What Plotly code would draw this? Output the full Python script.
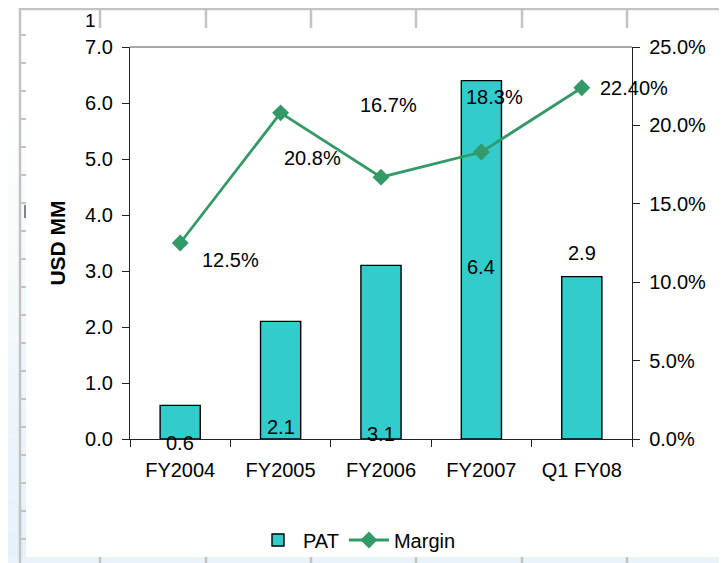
import plotly.graph_objects as go

categories = ["FY2004", "FY2005", "FY2006", "FY2007", "Q1 FY08"]
pat_values = [0.6, 2.1, 3.1, 6.4, 2.9]
margin_values = [12.5, 20.8, 16.7, 18.3, 22.4]
pat_labels = ["0.6", "2.1", "3.1", "6.4", "2.9"]
margin_labels = ["12.5%", "20.8%", "16.7%", "18.3%", "22.40%"]
left_ticks = [0, 1, 2, 3, 4, 5, 6, 7]
left_tick_labels = ["0.0", "1.0", "2.0", "3.0", "4.0", "5.0", "6.0", "7.0"]
right_ticks = [0, 5, 10, 15, 20, 25]
right_tick_labels = ["0.0%", "5.0%", "10.0%", "15.0%", "20.0%", "25.0%"]

# the page body has an 8px margin, so the figure is drawn 8px in from the window edge
OFF = 8
WIN_W, WIN_H = 727, 563
W, H = WIN_W - OFF, WIN_H - OFF
PLOT_L, PLOT_R, PLOT_T, PLOT_B = 130, 632, 47, 439   # window coordinates
L = PLOT_L - OFF
T = PLOT_T - OFF
R = W - (PLOT_R - OFF)
B = H - (PLOT_B - OFF)
PW = PLOT_R - PLOT_L
PH = PLOT_B - PLOT_T

def px(x):
    return (x - PLOT_L) / PW

def py(y):
    return (PLOT_B - y) / PH

FONT = "Liberation Sans, Arial, Helvetica, sans-serif"
TEAL = "#33CCCC"
GREEN = "#339966"
GRID = "#c3c3c3"

fig = go.Figure()
fig.add_trace(go.Bar(
    x=categories, y=pat_values, name="PAT",
    marker=dict(color=TEAL, line=dict(color="black", width=1.4)),
    width=0.4,
))
fig.add_trace(go.Scatter(
    x=categories, y=margin_values, name="Margin", yaxis="y2",
    mode="lines+markers",
    line=dict(color=GREEN, width=2.8),
    marker=dict(symbol="diamond", size=13, color=GREEN),
))

annotations = []
pat_offsets = [("base", -4), ("base", 12), ("base", 5), ("mid", -7), ("top", 24)]
for cat, v, lab, (mode, sh) in zip(categories, pat_values, pat_labels, pat_offsets):
    yv = 0 if mode == "base" else (v / 2 if mode == "mid" else v)
    annotations.append(dict(x=cat, y=yv, xref="x", yref="y", text=lab,
                            showarrow=False, yshift=sh, xanchor="center", yanchor="middle",
                            font=dict(family=FONT, size=20, color="black")))
margin_offsets = [(50, -17), (32, -45), (7, 72), (13, 55), (52, 0)]
for cat, v, lab, (xs, ys) in zip(categories, margin_values, margin_labels, margin_offsets):
    annotations.append(dict(x=cat, y=v, xref="x", yref="y2", text=lab,
                            showarrow=False, xshift=xs, yshift=ys, xanchor="center", yanchor="middle",
                            font=dict(family=FONT, size=20, color="black")))
annotations.append(dict(x=px(90), y=py(21), xref="paper", yref="paper", text="1",
                        showarrow=False, xanchor="center", yanchor="middle",
                        font=dict(family=FONT, size=19, color="black")))

shapes = []
steps = 14
for i in range(steps):
    y0 = 120 + i * (WIN_H - 120) / steps
    y1 = 120 + (i + 1) * (WIN_H - 120) / steps
    t = (i + 1) / steps
    r = int(255 - t * (255 - 230))
    g = int(255 - t * (255 - 242))
    b = int(255 - t * (255 - 250))
    col = f"rgb({r},{g},{b})"
    shapes.append(dict(type="rect", xref="paper", yref="paper", x0=px(0), x1=px(26),
                       y0=py(y1), y1=py(y0), fillcolor=col, line=dict(width=0), layer="below"))
shapes.append(dict(type="rect", xref="paper", yref="paper", x0=px(0), x1=px(WIN_W + 10),
                   y0=py(WIN_H + 10), y1=py(557), fillcolor="rgb(232,243,250)", line=dict(width=0),
                   layer="below"))
shapes.append(dict(type="line", xref="paper", yref="paper", x0=px(19), x1=px(WIN_W + 10),
                   y0=py(9), y1=py(9), line=dict(color=GRID, width=2.5), layer="below"))
shapes.append(dict(type="line", xref="paper", yref="paper", x0=px(20), x1=px(20),
                   y0=py(8), y1=py(WIN_H + 10), line=dict(color=GRID, width=2.5), layer="below"))
for xc in [100, 206, 311, 416, 522, 627]:
    shapes.append(dict(type="line", xref="paper", yref="paper", x0=px(xc), x1=px(xc),
                       y0=py(9), y1=py(28), line=dict(color=GRID, width=2.5), layer="below"))
    shapes.append(dict(type="line", xref="paper", yref="paper", x0=px(xc), x1=px(xc),
                       y0=py(557), y1=py(WIN_H + 10), line=dict(color=GRID, width=2.5), layer="below"))
yy = 35
while yy < WIN_H:
    shapes.append(dict(type="line", xref="paper", yref="paper", x0=px(20), x1=px(26),
                       y0=py(yy), y1=py(yy), line=dict(color=GRID, width=2), layer="below"))
    yy += 28
shapes.append(dict(type="line", xref="paper", yref="paper", x0=px(25), x1=px(25),
                   y0=py(205), y1=py(218), line=dict(color="#333", width=1.2), layer="below"))
shapes.append(dict(type="line", xref="paper", yref="paper", x0=0, x1=1, y0=1, y1=1,
                   line=dict(color="#8c8c8c", width=1.5)))

tickfont = dict(family=FONT, size=20, color="black")
AX = "#222222"
fig.update_layout(
    width=W, height=H,
    margin=dict(l=L, r=R, t=T, b=B, pad=0, autoexpand=False),
    paper_bgcolor="white", plot_bgcolor="white",
    font=dict(family=FONT, size=20, color="black"),
    bargap=0.6,
    showlegend=True,
    legend=dict(orientation="h", xref="container", yref="container",
                x=(357 - OFF) / W, y=1 - (540 - OFF) / H, xanchor="center", yanchor="middle",
                font=dict(family=FONT, size=20, color="black"), bgcolor="rgba(0,0,0,0)",
                itemwidth=40, tracegroupgap=0),
    xaxis=dict(type="category", categoryarray=categories, range=[-0.5, 4.5],
               tickson="boundaries", ticks="outside", ticklen=7, tickwidth=1.2, tickcolor=AX,
               showline=True, linecolor=AX, linewidth=1.3, showgrid=False, zeroline=False,
               tickfont=tickfont, ticklabelstandoff=13),
    xaxis2=dict(overlaying="x", anchor="y", range=[-0.5, 4.5],
                tickvals=[-0.5, 0.5, 1.5, 2.5, 3.5, 4.5], ticks="inside", ticklen=7, tickwidth=1.2,
                tickcolor=AX, showticklabels=False, showline=False, showgrid=False, zeroline=False),
    yaxis=dict(range=[0, 7], tickvals=left_ticks, ticktext=left_tick_labels, ticks="outside",
               ticklen=7, tickwidth=1.2, tickcolor=AX, showline=True, linecolor=AX, linewidth=1.3,
               showgrid=False, zeroline=False, tickfont=tickfont, ticklabelstandoff=5,
               title=dict(text="<b>USD MM</b>", font=dict(family=FONT, size=21, color="black"),
                          standoff=13)),
    yaxis2=dict(range=[0, 25], tickvals=right_ticks, ticktext=right_tick_labels,
                overlaying="y", side="right", anchor="x", ticks="outside", ticklen=7,
                tickwidth=1.2, tickcolor=AX, showline=True, linecolor=AX, linewidth=1.3,
                showgrid=False, zeroline=False, tickfont=tickfont, ticklabelstandoff=5),
    yaxis3=dict(range=[0, 7], tickvals=left_ticks, overlaying="y", side="left", anchor="x",
                ticks="inside", ticklen=7, tickwidth=1.2, tickcolor=AX, showticklabels=False,
                showline=False, showgrid=False, zeroline=False),
    yaxis4=dict(range=[0, 25], tickvals=right_ticks, overlaying="y", side="right", anchor="x",
                ticks="inside", ticklen=7, tickwidth=1.2, tickcolor=AX, showticklabels=False,
                showline=False, showgrid=False, zeroline=False),
    annotations=annotations,
    shapes=shapes,
)

fig.write_html("out.html")
